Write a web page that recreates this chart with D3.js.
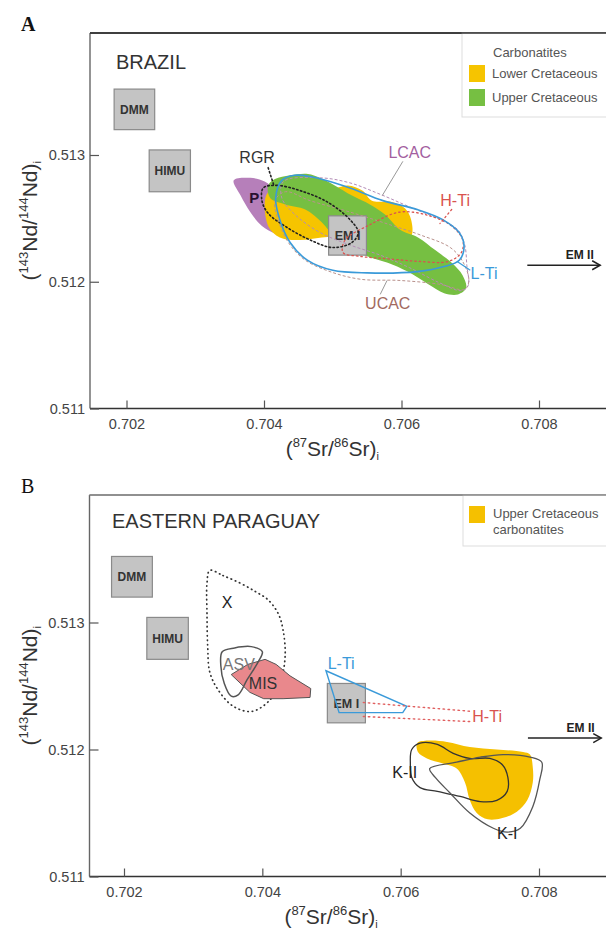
<!DOCTYPE html>
<html><head><meta charset="utf-8">
<script src="https://cdn.jsdelivr.net/npm/d3@7"></script>
<style>
body{margin:0;background:#fff}
svg{display:block}
svg{font-family:"Liberation Sans",Arial,Helvetica,sans-serif}
</style>
</head><body>
<svg id="c" width="606" height="928"></svg>
<script>
// ---------- shared axis data ----------
const xTicks = [0.702, 0.704, 0.706, 0.708];
const yTicks = [0.511, 0.512, 0.513];

// ---------- reservoir boxes (Sr range, Nd range) ----------
const boxNames = ["DMM", "HIMU", "EM I"];
const boxSr = [[0.70182, 0.70241], [0.70233, 0.70293], [0.70494, 0.70549]];
const boxNd = [[0.51320, 0.51352], [0.51271, 0.51304], [0.51221, 0.51252]];

// ---------- Panel A : Brazil ----------
const aPurpleP = [[0.70356,0.51280],[0.70380,0.51282],[0.70401,0.51279],[0.70416,0.51272],[0.70426,0.51257],[0.70445,0.51242],[0.70455,0.51236],[0.70438,0.51235],[0.70416,0.51238],[0.70397,0.51244],[0.70380,0.51255],[0.70366,0.51268]];
const aLowerK = [[0.70403,0.51268],[0.70417,0.51275],[0.70452,0.51276],[0.70496,0.51273],[0.70522,0.51276],[0.70543,0.51272],[0.70557,0.51264],[0.70586,0.51263],[0.70605,0.51258],[0.70614,0.51249],[0.70614,0.51236],[0.70595,0.51233],[0.70557,0.51236],[0.70518,0.51236],[0.70484,0.51235],[0.70452,0.51233],[0.70423,0.51235],[0.70406,0.51244]];
const aUpperK = [[0.70406,0.51276],[0.70416,0.51281],[0.70438,0.51284],[0.70464,0.51285],[0.70481,0.51282],[0.70503,0.51276],[0.70528,0.51268],[0.70554,0.51261],[0.70576,0.51253],[0.70598,0.51241],[0.70624,0.51235],[0.70649,0.51225],[0.70673,0.51215],[0.70689,0.51205],[0.70694,0.51195],[0.70682,0.51190],[0.70662,0.51191],[0.70639,0.51198],[0.70609,0.51208],[0.70580,0.51215],[0.70551,0.51220],[0.70522,0.51227],[0.70503,0.51235],[0.70484,0.51247],[0.70460,0.51257],[0.70431,0.51261],[0.70409,0.51266]];
const aUCAC = [[0.70416,0.51264],[0.70423,0.51245],[0.70438,0.51229],[0.70460,0.51217],[0.70496,0.51208],[0.70540,0.51202],[0.70598,0.51201],[0.70656,0.51198],[0.70692,0.51194],[0.70698,0.51201],[0.70689,0.51216],[0.70671,0.51227],[0.70627,0.51237],[0.70583,0.51245],[0.70525,0.51255],[0.70467,0.51264],[0.70431,0.51271]];
const aLCAC = [[0.70428,0.51279],[0.70481,0.51282],[0.70525,0.51278],[0.70569,0.51269],[0.70612,0.51259],[0.70656,0.51249],[0.70682,0.51241],[0.70692,0.51229],[0.70695,0.51213],[0.70697,0.51197],[0.70687,0.51193],[0.70656,0.51199],[0.70612,0.51211],[0.70569,0.51221],[0.70525,0.51229],[0.70481,0.51239],[0.70445,0.51253],[0.70426,0.51266]];
const aHTi = [[0.70518,0.51233],[0.70554,0.51245],[0.70598,0.51255],[0.70641,0.51252],[0.70673,0.51244],[0.70689,0.51233],[0.70687,0.51223],[0.70668,0.51216],[0.70627,0.51216],[0.70583,0.51218],[0.70540,0.51220],[0.70515,0.51223]];
const aRGR = [[0.70399,0.51274],[0.70419,0.51276],[0.70452,0.51272],[0.70492,0.51263],[0.70525,0.51249],[0.70537,0.51239],[0.70528,0.51231],[0.70500,0.51227],[0.70467,0.51233],[0.70433,0.51243],[0.70406,0.51254],[0.70397,0.51264]];
const aLTi = [[0.70426,0.51280],[0.70445,0.51284],[0.70467,0.51283],[0.70525,0.51274],[0.70573,0.51264],[0.70623,0.51257],[0.70660,0.51249],[0.70685,0.51238],[0.70691,0.51227],[0.70684,0.51217],[0.70662,0.51212],[0.70623,0.51208],[0.70550,0.51207],[0.70500,0.51209],[0.70463,0.51217],[0.70438,0.51231],[0.70423,0.51249],[0.70417,0.51266]];
const aLabelText = ["RGR", "LCAC", "H-Ti", "L-Ti", "UCAC", "P"];
const aLabelPos = [[0.70390,0.51298],[0.70612,0.51302],[0.70678,0.51264],[0.70720,0.51207],[0.70580,0.51183],[0.70386,0.51266]];
const aLeaderRGR = [[0.70406,0.51290],[0.70415,0.51275]];
const aLeaderLCAC = [[0.70602,0.51295],[0.70572,0.51268]];
const aLeaderHTi = [[0.70673,0.51257],[0.70656,0.51246]];
const aLeaderLTi = [[0.70681,0.51216],[0.70700,0.51209]];
const aLeaderUCAC = [[0.70579,0.51201],[0.70569,0.51190]];
const aEM2Sr = [0.70783, 0.70889];
const aEM2Nd = 0.51213;
const aLegendTitle = "Carbonatites";
const aLegendItems = ["Lower Cretaceous", "Upper Cretaceous"];

// ---------- Panel B : Eastern Paraguay ----------
const bX = [[0.70324,0.51341],[0.70343,0.51337],[0.70368,0.51331],[0.70391,0.51324],[0.70408,0.51318],[0.70423,0.51307],[0.70430,0.51294],[0.70433,0.51274],[0.70427,0.51255],[0.70411,0.51239],[0.70385,0.51230],[0.70358,0.51234],[0.70336,0.51247],[0.70324,0.51261],[0.70321,0.51281],[0.70320,0.51307],[0.70320,0.51331]];
const bASV = [[0.70342,0.51277],[0.70360,0.51280],[0.70384,0.51281],[0.70400,0.51277],[0.70394,0.51269],[0.70378,0.51255],[0.70365,0.51243],[0.70355,0.51242],[0.70345,0.51252],[0.70340,0.51266]];
const bMIS = [[0.70355,0.51259],[0.70379,0.51267],[0.70404,0.51271],[0.70420,0.51267],[0.70440,0.51258],[0.70470,0.51248],[0.70469,0.51241],[0.70430,0.51240],[0.70402,0.51240],[0.70382,0.51245]];
const bLTi = [[0.70492,0.51262],[0.70609,0.51234],[0.70603,0.51229],[0.70511,0.51229]];
const bHTiUpper = [[0.70546,0.51237],[0.70703,0.51230]];
const bHTiLower = [[0.70546,0.51226],[0.70700,0.51222]];
const bUpperK = [[0.70624,0.51205],[0.70640,0.51207],[0.70667,0.51206],[0.70700,0.51202],[0.70739,0.51200],[0.70777,0.51198],[0.70787,0.51196],[0.70791,0.51186],[0.70791,0.51174],[0.70783,0.51160],[0.70768,0.51151],[0.70747,0.51146],[0.70726,0.51145],[0.70710,0.51150],[0.70700,0.51160],[0.70693,0.51174],[0.70681,0.51185],[0.70661,0.51189],[0.70638,0.51193],[0.70625,0.51198]];
const bKII = [[0.70616,0.51200],[0.70628,0.51205],[0.70653,0.51204],[0.70676,0.51197],[0.70700,0.51193],[0.70729,0.51193],[0.70747,0.51188],[0.70755,0.51178],[0.70754,0.51167],[0.70739,0.51160],[0.70715,0.51159],[0.70686,0.51163],[0.70653,0.51167],[0.70628,0.51170],[0.70616,0.51178],[0.70614,0.51189]];
const bKI = [[0.70642,0.51185],[0.70681,0.51190],[0.70715,0.51194],[0.70748,0.51196],[0.70787,0.51194],[0.70804,0.51190],[0.70801,0.51176],[0.70791,0.51155],[0.70773,0.51138],[0.70754,0.51135],[0.70734,0.51138],[0.70700,0.51150],[0.70671,0.51166],[0.70650,0.51178]];
const bLabelText = ["X", "ASV", "MIS", "L-Ti", "H-Ti", "K-II", "K-I"];
const bLabelPos = [[0.70349,0.51316],[0.70366,0.51267],[0.70401,0.51252],[0.70514,0.51268],[0.70725,0.51226],[0.70606,0.51182],[0.70754,0.51134]];
const bEM2Sr = [0.70784, 0.70890];
const bEM2Nd = 0.51209;
const bLegendItems = ["Upper Cretaceous", "carbonatites"];

// ---------- drawing ----------
const svg = d3.select("#c");
const fmt = d3.format(".3f");

function makePanel(o) {
  const g = svg.append("g");
  const x = d3.scaleLinear().domain([0.702, 0.708]).range(o.xr);
  const y = d3.scaleLinear().domain([0.511, 0.513]).range(o.yr);
  const B = y(0.511);
  const smooth = d3.line().x(d => x(d[0])).y(d => y(d[1])).curve(d3.curveCatmullRomClosed.alpha(0.5));
  const poly = d3.line().x(d => x(d[0])).y(d => y(d[1])).curve(d3.curveLinearClosed);
  const seg = d3.line().x(d => x(d[0])).y(d => y(d[1]));

  // frame
  g.append("line").attr("x1", o.left).attr("x2", 640).attr("y1", o.top).attr("y2", o.top)
    .attr("stroke", o.topStroke).attr("stroke-width", 1.4);
  g.append("line").attr("x1", o.left).attr("x2", o.left).attr("y1", o.top).attr("y2", B)
    .attr("stroke", "#666").attr("stroke-width", 1.4);
  g.append("line").attr("x1", o.left).attr("x2", 640).attr("y1", B).attr("y2", B)
    .attr("stroke", "#333").attr("stroke-width", 1.4);

  // axes
  const gx = g.append("g").attr("transform", `translate(0,${B})`)
    .call(d3.axisBottom(x).tickValues(xTicks).tickFormat(fmt).tickSizeInner(-8).tickSizeOuter(0).tickPadding(10));
  const gy = g.append("g").attr("transform", `translate(${o.left},0)`)
    .call(d3.axisLeft(y).tickValues(yTicks).tickFormat(fmt).tickSizeInner(-9).tickSizeOuter(0).tickPadding(5));
  [gx, gy].forEach(a => {
    a.select(".domain").remove();
    a.attr("font-family", null);
    a.selectAll("line").attr("stroke", "#555").attr("stroke-width", 1.2);
    a.selectAll("text").attr("font-size", 14.5).attr("fill", "#444");
  });

  // axis titles
  const cx = (x(0.702) + x(0.708)) / 2 - 0.5;
  const tx = g.append("text").attr("x", cx).attr("y", B + 47).attr("text-anchor", "middle")
    .attr("font-size", 21).attr("fill", "#333");
  tx.append("tspan").text("(");
  tx.append("tspan").attr("font-size", 13).attr("dy", -9).text("87");
  tx.append("tspan").attr("dy", 9).text("Sr/");
  tx.append("tspan").attr("font-size", 13).attr("dy", -9).text("86");
  tx.append("tspan").attr("dy", 9).text("Sr)");
  tx.append("tspan").attr("font-size", 11).attr("dy", 4).text("i");

  const cy = (o.top + B) / 2;
  const ty = g.append("text").attr("transform", `translate(37,${cy}) rotate(-90)`).attr("text-anchor", "middle")
    .attr("font-size", 21).attr("fill", "#333");
  ty.append("tspan").text("(");
  ty.append("tspan").attr("font-size", 13).attr("dy", -9).text("143");
  ty.append("tspan").attr("dy", 9).text("Nd/");
  ty.append("tspan").attr("font-size", 13).attr("dy", -9).text("144");
  ty.append("tspan").attr("dy", 9).text("Nd)");
  ty.append("tspan").attr("font-size", 11).attr("dy", 4).text("i");

  // panel letter and region title
  g.append("text").attr("x", 21).attr("y", o.letterY)
    .style("font-family", "'Liberation Serif','DejaVu Serif',serif")
    .attr("font-size", 20).attr("font-weight", o.letterBold ? "bold" : "normal").attr("fill", "#111").text(o.letter);
  g.append("text").attr("x", o.titleX).attr("y", o.titleY).attr("font-size", 20).attr("fill", "#333").text(o.title);

  return { g, x, y, smooth, poly, seg };
}

function drawBox(P, i) {
  const { g, x, y } = P;
  g.append("rect").attr("x", x(boxSr[i][0])).attr("y", y(boxNd[i][1]))
    .attr("width", x(boxSr[i][1]) - x(boxSr[i][0])).attr("height", y(boxNd[i][0]) - y(boxNd[i][1]))
    .attr("fill", "#c4c4c4").attr("stroke", "#8a8a8a").attr("stroke-width", 1.2);
  g.append("text").attr("x", x((boxSr[i][0] + boxSr[i][1]) / 2)).attr("y", y((boxNd[i][0] + boxNd[i][1]) / 2))
    .attr("dy", "0.36em").attr("text-anchor", "middle").attr("font-size", i === 2 ? 12.5 : 12)
    .attr("font-weight", "bold").attr("fill", "#333").text(boxNames[i]);
}

function drawEM2(P, sr, nd) {
  const { g, x, y } = P;
  const x1 = x(sr[0]), x2 = x(sr[1]), yy = y(nd);
  g.append("line").attr("x1", x1).attr("x2", x2).attr("y1", yy).attr("y2", yy).attr("stroke", "#222").attr("stroke-width", 1.5);
  g.append("path").attr("d", `M${x2 - 8},${yy - 4.5}L${x2},${yy}L${x2 - 8},${yy + 4.5}`)
    .attr("fill", "none").attr("stroke", "#222").attr("stroke-width", 1.5);
  g.append("text").attr("x", (x1 + x2) / 2 + 16).attr("y", yy - 6).attr("text-anchor", "middle")
    .attr("font-size", 12).attr("font-weight", "bold").attr("fill", "#222").text("EM II");
}

// ===== Panel A =====
const A = makePanel({ xr: [126.5, 539], yr: [408.5, 155], left: 90, top: 33, topStroke: "#333",
  letter: "A", letterY: 31, letterBold: true, title: "BRAZIL", titleX: 116, titleY: 69 });

// legend A
A.g.append("rect").attr("x", 462).attr("y", 33).attr("width", 170).attr("height", 84)
  .attr("fill", "#fff").attr("stroke", "#ddd").attr("stroke-width", 1);
A.g.append("text").attr("x", 493).attr("y", 57).attr("font-size", 13).attr("fill", "#555").text(aLegendTitle);
const aLegColors = ["#f6c400", "#76bf42"];
aLegendItems.forEach((t, i) => {
  A.g.append("rect").attr("x", 469).attr("y", 65 + i * 24).attr("width", 16).attr("height", 17).attr("fill", aLegColors[i]);
  A.g.append("text").attr("x", 492).attr("y", 78 + i * 24).attr("font-size", 13).attr("fill", "#555").text(t);
});
A.g.append("line").attr("x1", 90).attr("x2", 640).attr("y1", 33).attr("y2", 33).attr("stroke", "#333").attr("stroke-width", 1.4);

drawBox(A, 0);
drawBox(A, 1);

A.g.append("path").attr("d", A.smooth(aPurpleP)).attr("fill", "#b67fba");
A.g.append("path").attr("d", A.smooth(aLowerK)).attr("fill", "#f6c400");
A.g.append("path").attr("d", A.smooth(aUpperK)).attr("fill", "#76bf42");
drawBox(A, 2);
A.g.append("path").attr("d", A.smooth(aUCAC)).attr("fill", "none").attr("stroke", "#b9928d")
  .attr("stroke-width", 1).attr("stroke-dasharray", "3,2");
A.g.append("path").attr("d", A.smooth(aLCAC)).attr("fill", "none").attr("stroke", "#b48cb6")
  .attr("stroke-width", 1).attr("stroke-dasharray", "3,2");
A.g.append("path").attr("d", A.smooth(aHTi)).attr("fill", "none").attr("stroke", "#d9534f")
  .attr("stroke-width", 1.3).attr("stroke-dasharray", "1.5,3").attr("stroke-linecap", "round");
A.g.append("path").attr("d", A.smooth(aRGR)).attr("fill", "none").attr("stroke", "#222")
  .attr("stroke-width", 1.6).attr("stroke-dasharray", "1.5,2.5").attr("stroke-linecap", "round");
A.g.append("path").attr("d", A.smooth(aLTi)).attr("fill", "none").attr("stroke", "#3a9ad9").attr("stroke-width", 1.6);

// leaders
A.g.append("path").attr("d", A.seg(aLeaderRGR)).attr("stroke", "#222").attr("stroke-width", 1.6)
  .attr("stroke-dasharray", "1.5,2.5").attr("stroke-linecap", "round").attr("fill", "none");
A.g.append("path").attr("d", A.seg(aLeaderLCAC)).attr("stroke", "#999").attr("stroke-width", 1).attr("fill", "none");
A.g.append("path").attr("d", A.seg(aLeaderHTi)).attr("stroke", "#d9534f").attr("stroke-width", 1.3)
  .attr("stroke-dasharray", "1.5,3").attr("stroke-linecap", "round").attr("fill", "none");
A.g.append("path").attr("d", A.seg(aLeaderLTi)).attr("stroke", "#3a9ad9").attr("stroke-width", 1.2).attr("fill", "none");
A.g.append("path").attr("d", A.seg(aLeaderUCAC)).attr("stroke", "#999").attr("stroke-width", 1).attr("fill", "none");

const aLabelColor = ["#333", "#a35fa0", "#d9534f", "#3a9ad9", "#a26a5f", "#2a1030"];
aLabelText.forEach((t, i) => {
  A.g.append("text").attr("x", A.x(aLabelPos[i][0])).attr("y", A.y(aLabelPos[i][1])).attr("dy", "0.36em")
    .attr("text-anchor", "middle").attr("font-size", t === "P" ? 15 : 16)
    .attr("font-weight", t === "P" ? "bold" : "normal").attr("fill", aLabelColor[i]).text(t);
});
drawEM2(A, aEM2Sr, aEM2Nd);

// ===== Panel B =====
const Bp = makePanel({ xr: [124, 539], yr: [876.5, 622.5], left: 89.5, top: 495, topStroke: "#888",
  letter: "B", letterY: 493, letterBold: false, title: "EASTERN PARAGUAY", titleX: 112, titleY: 528 });

Bp.g.append("rect").attr("x", 463).attr("y", 495).attr("width", 170).attr("height", 51)
  .attr("fill", "#fff").attr("stroke", "#ddd").attr("stroke-width", 1);
Bp.g.append("rect").attr("x", 469).attr("y", 506).attr("width", 16).attr("height", 17).attr("fill", "#f5c000");
bLegendItems.forEach((t, i) => {
  Bp.g.append("text").attr("x", 493).attr("y", 518 + i * 16).attr("font-size", 13).attr("fill", "#555").text(t);
});
Bp.g.append("line").attr("x1", 89.5).attr("x2", 640).attr("y1", 495).attr("y2", 495).attr("stroke", "#888").attr("stroke-width", 1.4);

drawBox(Bp, 0);
drawBox(Bp, 1);
Bp.g.append("path").attr("d", Bp.smooth(bX)).attr("fill", "none").attr("stroke", "#333")
  .attr("stroke-width", 1.7).attr("stroke-dasharray", "0.5,4").attr("stroke-linecap", "round");
Bp.g.append("path").attr("d", Bp.poly(bMIS)).attr("fill", "#e9888c").attr("stroke", "#555").attr("stroke-width", 1);
Bp.g.append("path").attr("d", Bp.smooth(bASV)).attr("fill", "none").attr("stroke", "#555").attr("stroke-width", 1.5);
drawBox(Bp, 2);
Bp.g.append("path").attr("d", Bp.poly(bLTi)).attr("fill", "none").attr("stroke", "#3a9ad9").attr("stroke-width", 1.4);
[bHTiUpper, bHTiLower].forEach(l => {
  Bp.g.append("path").attr("d", Bp.seg(l)).attr("fill", "none").attr("stroke", "#e06060")
    .attr("stroke-width", 1.4).attr("stroke-dasharray", "1.5,3.5").attr("stroke-linecap", "round");
});
Bp.g.append("path").attr("d", Bp.smooth(bUpperK)).attr("fill", "#f5c000");
Bp.g.append("path").attr("d", Bp.smooth(bKII)).attr("fill", "none").attr("stroke", "#333").attr("stroke-width", 1.3);
Bp.g.append("path").attr("d", Bp.smooth(bKI)).attr("fill", "none").attr("stroke", "#555").attr("stroke-width", 1.3);

const bLabelColor = ["#222", "#777", "#333", "#3a9ad9", "#d9534f", "#222", "#222"];
bLabelText.forEach((t, i) => {
  Bp.g.append("text").attr("x", Bp.x(bLabelPos[i][0])).attr("y", Bp.y(bLabelPos[i][1])).attr("dy", "0.36em")
    .attr("text-anchor", "middle").attr("font-size", 16).attr("fill", bLabelColor[i]).text(t);
});
drawEM2(Bp, bEM2Sr, bEM2Nd);
</script>
</body></html>
